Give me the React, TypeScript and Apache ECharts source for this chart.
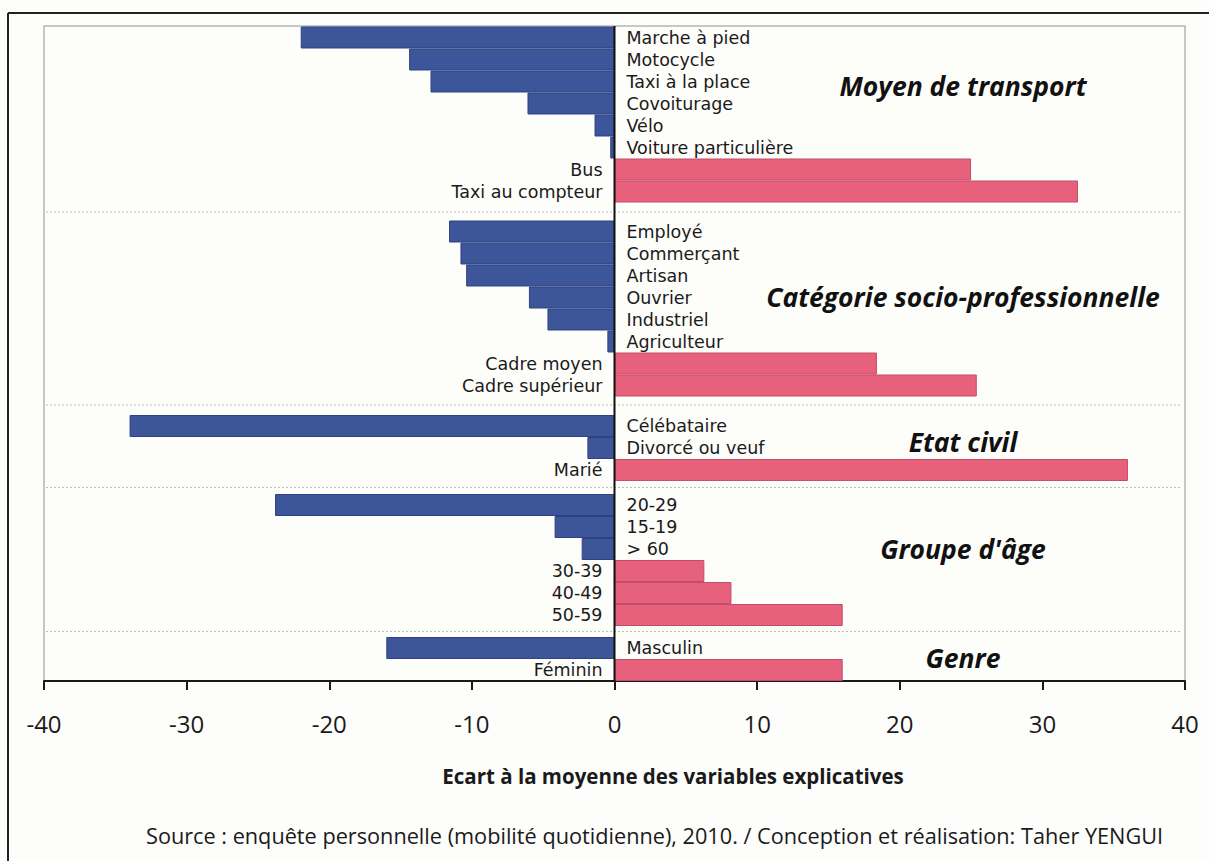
import React, { useEffect, useRef } from "react";
import * as echarts from "echarts";

// ---- Data ----
const transportLabels = ["Marche à pied", "Motocycle", "Taxi à la place", "Covoiturage", "Vélo", "Voiture particulière", "Bus", "Taxi au compteur"];
const transportValues = [-22, -14.4, -12.9, -6.1, -1.4, -0.3, 25, 32.5];

const cspLabels = ["Employé", "Commerçant", "Artisan", "Ouvrier", "Industriel", "Agriculteur", "Cadre moyen", "Cadre supérieur"];
const cspValues = [-11.6, -10.8, -10.4, -6.0, -4.7, -0.5, 18.4, 25.4];

const civilLabels = ["Célébataire", "Divorcé ou veuf", "Marié"];
const civilValues = [-34.0, -1.9, 36.0];

const ageLabels = ["20-29", "15-19", "> 60", "30-39", "40-49", "50-59"];
const ageValues = [-23.8, -4.2, -2.3, 6.3, 8.2, 16.0];

const genreLabels = ["Masculin", "Féminin"];
const genreValues = [-16.0, 16.0];

const groupTitles = ["Moyen de transport", "Catégorie socio-professionnelle", "Etat civil", "Groupe d'âge", "Genre"];
const xTicks = [-40, -30, -20, -10, 0, 10, 20, 30, 40];
const axisTitle = "Ecart à la moyenne des variables explicatives";
const sourceText = "Source : enquête personnelle (mobilité quotidienne), 2010. / Conception et réalisation: Taher YENGUI";

// ---- Layout ----
const FONT = "'Open Sans', 'DejaVu Sans', sans-serif";
const LABEL_FONT = "'DejaVu Sans', sans-serif";
const PLOT_L = 44;
const PLOT_R = 1185;
const PLOT_T = 26;
const PLOT_B = 681;
const ROW = 22;
const gridTops = [26.5, 220.5, 415, 494, 637];
const titleYs = [86, 297, 442, 549, 658];
const separatorYs = [212, 405, 487.5, 631.5];
const BLUE = "#3d5599";
const PINK = "#e8617c";

export default function App() {
  const ref = useRef<HTMLDivElement>(null);

  useEffect(() => {
    if (!ref.current) return;
    const chart = echarts.init(ref.current, null, { renderer: "svg" });

    const groups = [
      { labels: transportLabels, values: transportValues },
      { labels: cspLabels, values: cspValues },
      { labels: civilLabels, values: civilValues },
      { labels: ageLabels, values: ageValues },
      { labels: genreLabels, values: genreValues },
    ];
    const last = groups.length - 1;
    const plotW = PLOT_R - PLOT_L;
    const x0 = PLOT_L + plotW / 2;

    const grid = groups.map((g, i) => ({
      left: PLOT_L,
      width: plotW,
      top: gridTops[i],
      height: g.labels.length * ROW,
    }));

    const xAxis = groups.map((g, i) => ({
      type: "value",
      gridIndex: i,
      min: xTicks[0],
      max: xTicks[xTicks.length - 1],
      interval: 10,
      show: i === last,
      splitLine: { show: false },
      axisLine: { show: true, onZero: false, lineStyle: { color: "#1a1a1a", width: 2 } },
      axisTick: { show: true, inside: false, length: 9, lineStyle: { color: "#1a1a1a", width: 2 } },
      axisLabel: { fontSize: 24, fontFamily: FONT, color: "#1a1a1a", margin: 30 },
    }));

    const yAxis = groups.map((g, i) => ({
      type: "category",
      gridIndex: i,
      inverse: true,
      data: g.labels,
      show: false,
    }));

    const series = groups.map((g, i) => ({
      type: "bar",
      xAxisIndex: i,
      yAxisIndex: i,
      barWidth: "100%",
      barCategoryGap: 0,
      data: g.values.map((v) => ({
        value: v,
        itemStyle: {
          color: v < 0 ? BLUE : PINK,
          borderColor: v < 0 ? "#2e4282" : "#c24d66",
          borderWidth: 1,
        },
        label: { position: v < 0 ? "right" : "left" },
      })),
      label: {
        show: true,
        formatter: "{b}",
        distance: 12,
        fontSize: 17.5,
        lineHeight: 20,
        fontFamily: LABEL_FONT,
        color: "#1a1a1a",
      },
    }));

    const graphic: any[] = [
      // outer frame
      { type: "line", shape: { x1: 8, y1: 13, x2: 1209, y2: 13 }, style: { stroke: "#222", lineWidth: 2 }, z: 0 },
      { type: "line", shape: { x1: 8, y1: 13, x2: 8, y2: 861 }, style: { stroke: "#222", lineWidth: 2 }, z: 0 },
      // plot area
      {
        type: "rect",
        shape: { x: PLOT_L, y: PLOT_T, width: plotW, height: PLOT_B - PLOT_T },
        style: { fill: "#fdfdfa", stroke: "#b5b5b5", lineWidth: 1.5 },
        z: -10,
      },
      // zero line
      { type: "line", shape: { x1: x0, y1: PLOT_T, x2: x0, y2: PLOT_B }, style: { stroke: "#111", lineWidth: 2 }, z: 10 },
      ...separatorYs.map((y) => ({
        type: "line",
        shape: { x1: PLOT_L + 2, y1: y, x2: PLOT_R - 4, y2: y },
        style: { stroke: "#bdbdbd", lineWidth: 1, lineDash: [2, 2] },
        z: 1,
      })),
      ...groupTitles.map((t, i) => ({
        type: "text",
        x: 963,
        y: titleYs[i],
        z: 10,
        style: {
          text: t,
          fontSize: 26.5,
          fontWeight: "bold",
          fontStyle: "italic",
          fontFamily: FONT,
          fill: "#111",
          align: "center",
          verticalAlign: "middle",
        },
      })),
      {
        type: "text",
        x: 673,
        y: 776,
        z: 10,
        style: {
          text: axisTitle,
          fontSize: 20.5,
          fontWeight: "bold",
          fontFamily: FONT,
          fill: "#1a1a1a",
          align: "center",
          verticalAlign: "middle",
        },
      },
      {
        type: "text",
        x: 146,
        y: 835,
        z: 10,
        style: {
          text: sourceText,
          fontSize: 21.7,
          fontFamily: FONT,
          fill: "#1a1a1a",
          align: "left",
          verticalAlign: "middle",
        },
      },
    ];

    chart.setOption({
      animation: false,
      backgroundColor: "#fdfdfb",
      grid,
      xAxis,
      yAxis,
      series,
      graphic,
    });

    return () => chart.dispose();
  }, []);

  return (
    <div
      ref={ref}
      style={{ position: "absolute", left: 0, top: 0, width: 1209, height: 861 }}
    />
  );
}
